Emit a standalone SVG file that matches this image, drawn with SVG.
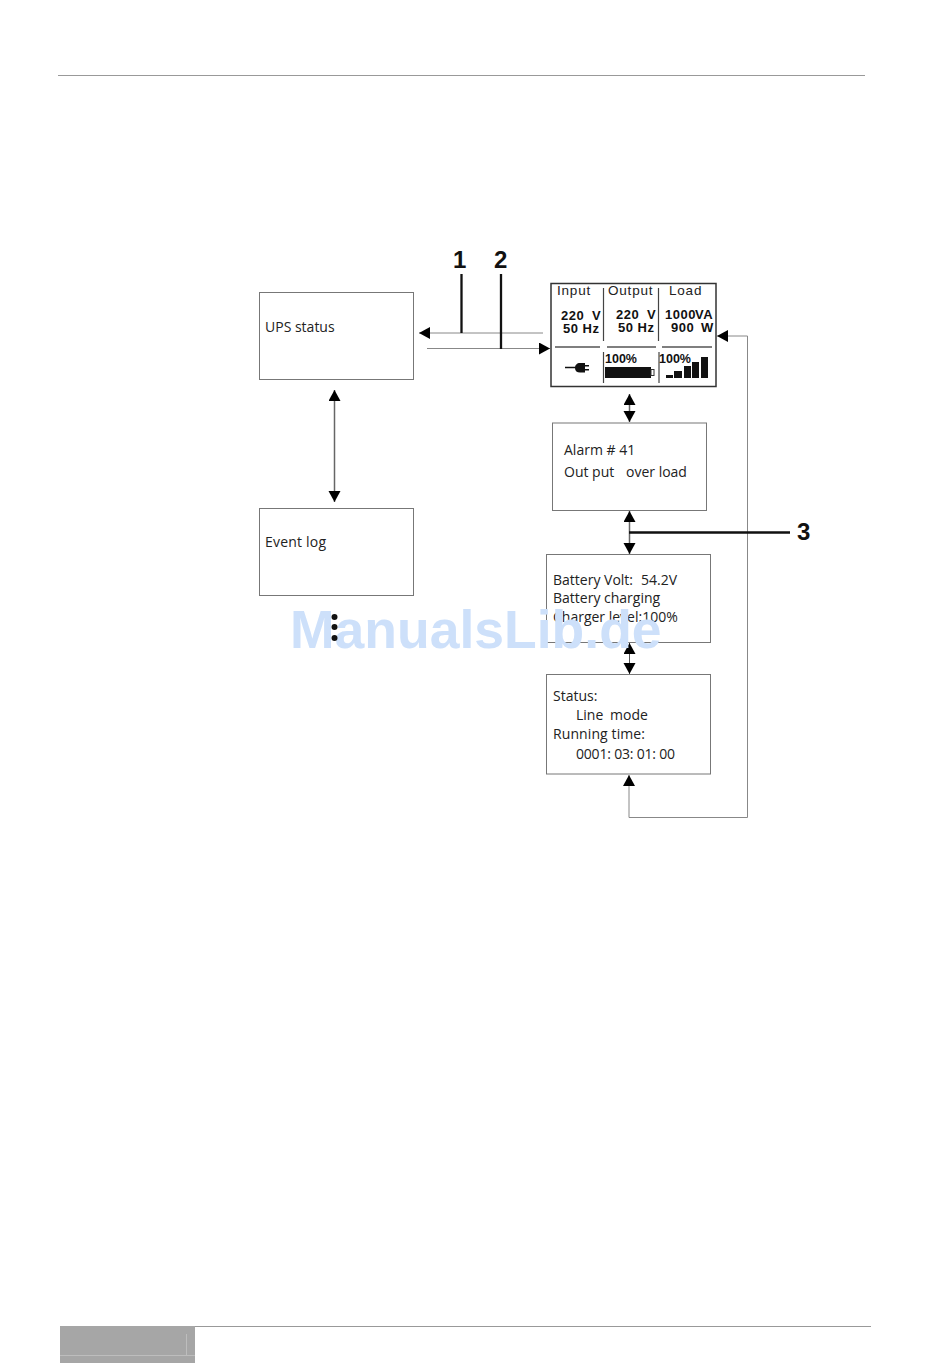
<svg xmlns="http://www.w3.org/2000/svg" width="950" height="1364" viewBox="0 0 950 1364">
<defs>
<marker id="ah" markerUnits="userSpaceOnUse" markerWidth="13" markerHeight="13" refX="11" refY="6" orient="auto-start-reverse"><path d="M0 0L11 6L0 12Z" fill="#000"/></marker>
</defs>
<style>
.box{fill:#fff;stroke:#777;stroke-width:1}
.t{font-family:"Open Sans","Noto Sans",sans-serif;font-size:14px;fill:#222}
.lcd{font-family:"Liberation Sans",Arial,sans-serif;font-size:13.5px;fill:#222;letter-spacing:.8px}
.lb{font-weight:bold;font-size:13px;fill:#111;letter-spacing:.5px}
.pc{font-weight:bold;font-size:12.5px;letter-spacing:0}
.num{font-family:"Liberation Sans",Arial,sans-serif;font-weight:bold;font-size:24px;fill:#111}
.c{fill:none;stroke:#888;stroke-width:1}
.k{fill:none;stroke:#111;stroke-width:2.300}
.d{fill:none;stroke:#666;stroke-width:1.500}
.d1{fill:none;stroke:#555;stroke-width:1}
.dot{fill:#111}
</style>
<rect width="950" height="1364" fill="#fff"/>
<g id="page">
<path d="M58 75.500H865" stroke="#999" stroke-width="1"/>
<path d="M195 1326.500H871" stroke="#999" stroke-width="1"/>
<rect x="60" y="1326" width="135" height="37" fill="#a6a6a6"/>
<path d="M60 1355.500H195M186.500 1334V1355" stroke="#bdbdbd" stroke-width="1"/>
</g>
<g id="ups-status"><rect class="box" x="259.500" y="292.500" width="154" height="87"/><text class="t" x="265" y="332">UPS status</text></g>
<g id="event-log"><rect class="box" x="259.500" y="508.500" width="154" height="87"/><text class="t" x="265" y="547" letter-spacing=".2">Event log</text></g>
<g id="lcd">
<rect x="551" y="283.500" width="165" height="103" fill="#fff" stroke="#333" stroke-width="1.500"/>
<text class="lcd" x="557" y="295">Input</text><text class="lcd" x="608" y="295">Output</text><text class="lcd" x="669" y="295">Load</text>
<text class="lcd lb" x="561" y="320">220</text><text class="lcd lb" x="592" y="320">V</text>
<text class="lcd lb" x="563" y="333">50 Hz</text>
<text class="lcd lb" x="616" y="319">220</text><text class="lcd lb" x="647" y="319">V</text>
<text class="lcd lb" x="618" y="332">50 Hz</text>
<text class="lcd lb" x="665" y="319">1000</text><text class="lcd lb" x="695" y="319" letter-spacing="0">VA</text>
<text class="lcd lb" x="671" y="332">900</text><text class="lcd lb" x="701" y="332">W</text>
<path d="M603.500 288V341M658.500 288V341M603.500 352V383M659 352V383" stroke="#444" stroke-width="1.200"/>
<path d="M555 347H600M607 347H656M662 347H712" stroke="#555" stroke-width="1.500"/>
<path d="M565 367.500H577" stroke="#111" stroke-width="1.500"/>
<path d="M575 368C575 365 577 363 580 363H585V365H589V366.500H585V369H589V370.500H585V372.500H580C577 372.500 575 371 575 368Z" fill="#111"/>
<text class="lcd lb pc" x="605" y="363">100%</text>
<text class="lcd lb pc" x="659" y="363">100%</text>
<rect x="605" y="367" width="46" height="11" fill="#111"/>
<rect x="651" y="369.500" width="3" height="6" fill="#fff" stroke="#333"/>
<path d="M666 375h7v3h-7zM674 371h8v7h-8zM684 366h7v12h-7zM692 362h7v16h-7zM701 357h7v21h-7z" fill="#111"/>
</g>
<g id="alarm"><rect class="box" x="552.500" y="423" width="154" height="87.500"/><text class="t" x="564" y="455">Alarm # 41</text><text class="t" x="564" y="477">Out put<tspan x="626">over load</tspan></text></g>
<g id="battery"><rect class="box" x="546.500" y="554.500" width="164" height="88"/><text class="t" x="553" y="585">Battery Volt:<tspan x="641">54.2V</tspan></text><text class="t" x="553" y="603">Battery charging</text><text class="t" x="553" y="622">Charger level:100%</text></g>
<g id="status"><rect class="box" x="546.500" y="674.500" width="164" height="99.500"/><text class="t" x="553" y="701">Status:</text><text class="t" x="576" y="720">Line<tspan x="610">mode</tspan></text><text class="t" x="553" y="739" letter-spacing=".1">Running time:</text><text class="t" x="576" y="759" letter-spacing="-.2">0001: 03: 01: 00</text></g>
<g id="connectors">
<path class="c" d="M543 333H419" marker-end="url(#ah)"/>
<path class="c" d="M427 348.500H550" marker-end="url(#ah)"/>
<path class="d" d="M334.500 390V502" marker-start="url(#ah)" marker-end="url(#ah)"/>
<path class="d" d="M629.500 394V422" marker-start="url(#ah)" marker-end="url(#ah)"/>
<path class="d" d="M629.500 511V554" marker-start="url(#ah)" marker-end="url(#ah)"/>
<path class="d1" d="M629.500 643V674" marker-start="url(#ah)" marker-end="url(#ah)"/>
<path class="c" d="M629 775V817.500H747.500V336H717" marker-start="url(#ah)" marker-end="url(#ah)"/>
</g>
<g id="callouts">
<path class="k" d="M461.500 274V333M501 274V349M629 532.500H790"/>
<text class="num" x="453" y="268">1</text>
<text class="num" x="494" y="268">2</text>
<text class="num" x="797" y="540">3</text>
</g>
<text id="watermark" x="290" y="648" font-family="'Liberation Sans',Arial,sans-serif" font-weight="bold" font-size="53.500" fill="#cde0fa">ManualsLib.de</text>
<g id="dots"><circle class="dot" cx="334.500" cy="617" r="3"/><circle class="dot" cx="334.500" cy="627" r="3"/><circle class="dot" cx="334.500" cy="638" r="3"/></g>
</svg>
